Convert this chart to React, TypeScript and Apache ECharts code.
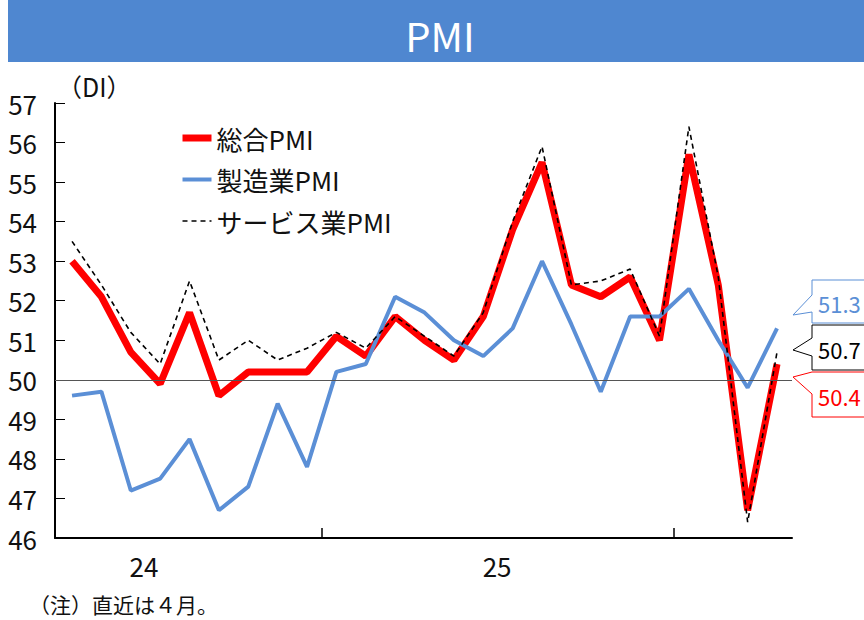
import React, { useEffect, useRef } from 'react';
import * as echarts from 'echarts';

// Apr 2023 .. Apr 2025 (monthly)
const months = [
  '2023/4', '2023/5', '2023/6', '2023/7', '2023/8', '2023/9', '2023/10', '2023/11', '2023/12',
  '2024/1', '2024/2', '2024/3', '2024/4', '2024/5', '2024/6', '2024/7', '2024/8', '2024/9',
  '2024/10', '2024/11', '2024/12', '2025/1', '2025/2', '2025/3', '2025/4',
];
const composite = [53.0, 52.1, 50.7, 49.9, 51.7, 49.6, 50.2, 50.2, 50.2, 51.1, 50.6, 51.6, 51.0, 50.5, 51.6, 53.8, 55.5, 52.4, 52.1, 52.6, 51.0, 55.7, 52.4, 46.7, 50.4];
const manufacturing = [49.6, 49.7, 47.2, 47.5, 48.5, 46.7, 47.3, 49.4, 47.8, 50.2, 50.4, 52.1, 51.7, 51.0, 50.6, 51.3, 53.0, 51.4, 49.7, 51.6, 51.6, 52.3, 51.0, 49.8, 51.3];
const services = [53.5, 52.4, 51.2, 50.4, 52.5, 50.5, 51.0, 50.5, 50.8, 51.2, 50.8, 51.6, 51.1, 50.6, 51.7, 54.0, 55.9, 52.4, 52.5, 52.8, 51.1, 56.4, 52.6, 46.4, 50.7];

const seriesNames = ['総合PMI', '製造業PMI', 'サービス業PMI'];
const yearBoundaries = [8.5, 20.5];
const yearLabelPos = [2.45, 14.47];
const yearLabels = ['24', '25'];
const yTicks = [46, 47, 48, 49, 50, 51, 52, 53, 54, 55, 56, 57];
const noteText = '（注）直近は４月。';

const FONT = "'Noto Sans CJK JP', 'Noto Sans', sans-serif";
const RED = '#ff0000';
const BLUE = '#5b8fd6';

function callout(top: number, bottom: number, n1: number, n2: number, tipX: number, tipY: number, color: string, text: string) {
  const left = 812;
  const right = 880;
  return [
    {
      type: 'polygon',
      shape: {
        points: [
          [left, top], [right, top], [right, bottom], [left, bottom],
          [left, n2], [tipX, tipY], [left, n1],
        ],
      },
      style: { fill: '#ffffff', stroke: color, lineWidth: 1 },
      z: 10,
    },
    {
      type: 'text',
      x: 818,
      y: (top + bottom) / 2 + 1,
      style: {
        text,
        fill: color,
        font: `22px ${FONT}`,
        verticalAlign: 'middle',
        align: 'left',
      },
      z: 11,
    },
  ];
}

export default function App() {
  const ref = useRef<HTMLDivElement>(null);

  useEffect(() => {
    if (!ref.current) return;
    const chart = echarts.init(ref.current, null, { renderer: 'svg' });
    const toPairs = (arr: number[]) => arr.map((v, i) => [i, v]);
    const last = (arr: number[]) => arr[arr.length - 1].toFixed(1);

    chart.setOption({
      animation: false,
      backgroundColor: '#ffffff',
      textStyle: { fontFamily: FONT },
      title: [
        {
          text: 'PMI',
          left: 435,
          textAlign: 'center',
          top: 10,
          textStyle: { color: '#ffffff', fontSize: 40, fontWeight: 'normal', fontFamily: FONT },
          z: 5,
        },
        {
          text: noteText,
          left: 29,
          top: 593.5,
          padding: 0,
          textStyle: { color: '#111', fontSize: 21, fontWeight: 'normal', fontFamily: FONT, lineHeight: 21 },
        },
      ],
      legend: {
        orient: 'vertical',
        left: 179,
        top: 124,
        padding: 0,
        itemWidth: 29,
        itemHeight: 14,
        itemGap: 13.5,
        itemStyle: { opacity: 0 },
        lineStyle: { width: 'inherit', type: 'inherit' },
        textStyle: { fontSize: 26, color: '#111', fontFamily: FONT, lineHeight: 28 },
        data: seriesNames,
      },
      grid: { left: 55, right: 72, top: 103, bottom: 82 },
      xAxis: {
        type: 'value',
        min: -0.58,
        max: 24.51,
        splitLine: { show: false },
        axisLine: { show: true, onZero: false, lineStyle: { color: '#000', width: 2 } },
        axisTick: {
          show: true,
          inside: true,
          length: 10,
          customValues: yearBoundaries,
          lineStyle: { color: '#000', width: 1.5 },
        },
        axisLabel: {
          show: true,
          customValues: yearLabelPos,
          margin: 14,
          fontSize: 26,
          color: '#111',
          fontFamily: FONT,
          formatter: (v: number) => {
            const idx = yearLabelPos.findIndex((p) => Math.abs(p - v) < 1e-6);
            return idx >= 0 ? yearLabels[idx] : '';
          },
        },
      },
      yAxis: {
        type: 'value',
        min: 46,
        max: 57,
        interval: 1,
        name: '（DI）',
        nameLocation: 'end',
        nameGap: 5,
        nameTextStyle: { fontSize: 25, color: '#111', align: 'left', fontFamily: FONT, padding: [0, 0, 0, 2] },
        splitLine: { show: false },
        axisLine: { show: true, onZero: false, lineStyle: { color: '#000', width: 2 } },
        axisTick: { show: true, inside: true, length: 10, lineStyle: { color: '#000', width: 1 } },
        axisLabel: {
          fontSize: 26,
          color: '#111',
          margin: 18,
          fontFamily: FONT,
          customValues: yTicks,
        },
      },
      graphic: [
        {
          type: 'rect',
          shape: { x: 8, y: 0, width: 856, height: 62 },
          style: { fill: '#4f87d0' },
          z: 1,
        },
        ...callout(280, 323, 295, 312, 793, 315, BLUE, last(manufacturing)),
        ...callout(325, 370, 338, 356, 793, 350, '#000000', last(services)),
        ...callout(372, 417, 372, 394, 793, 377, RED, last(composite)),
      ],
      series: [
        {
          name: seriesNames[0],
          type: 'line',
          data: toPairs(composite),
          symbol: 'none',
          lineStyle: { color: RED, width: 7 },
          itemStyle: { color: RED },
          markLine: {
            silent: true,
            symbol: 'none',
            label: { show: false },
            lineStyle: { color: '#555', width: 1, type: 'solid' },
            data: [{ yAxis: 50 }],
          },
        },
        {
          name: seriesNames[1],
          type: 'line',
          data: toPairs(manufacturing),
          symbol: 'none',
          lineStyle: { color: BLUE, width: 4 },
          itemStyle: { color: BLUE },
        },
        {
          name: seriesNames[2],
          type: 'line',
          data: toPairs(services),
          symbol: 'none',
          lineStyle: { color: '#000', width: 1.6, type: [5, 4] },
          itemStyle: { color: '#000' },
        },
      ],
    });
    return () => chart.dispose();
  }, []);

  return (
    <div
      ref={ref}
      style={{ position: 'absolute', left: 0, top: 0, width: 864, height: 620 }}
      data-months={months.length}
    />
  );
}
